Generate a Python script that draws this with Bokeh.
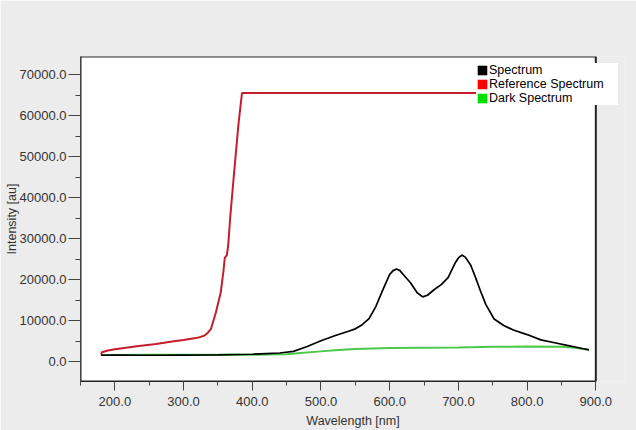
from bokeh.plotting import figure
from bokeh.models import (Range1d, SingleIntervalTicker, NumeralTickFormatter,
                          Legend, LegendItem)
from bokeh.embed import file_html
from bokeh.resources import INLINE

# ---- data ----
wl_spectrum = [180, 200, 250, 300, 350, 400, 420, 440, 460, 480,
               500, 520, 540, 550, 560, 570, 580, 590, 600, 605,
               610, 615, 620, 630, 640, 648, 655, 665, 675, 685,
               695, 700, 705, 710, 718, 725, 732, 740, 752, 766,
               780, 800, 820, 840, 860, 880, 890]
spectrum = [1550, 1600, 1550, 1600, 1650, 1800, 1950, 2100, 2500, 3700,
            5100, 6300, 7400, 8000, 9000, 10500, 13500, 17500, 21300, 22200,
            22600, 22200, 21200, 19300, 16800, 15800, 16200, 17600, 18800, 20500,
            24000, 25300, 26000, 25500, 23500, 20500, 17300, 13900, 10400, 8800,
            7700, 6600, 5300, 4600, 3900, 3200, 2850]

wl_reference = [180, 181, 190, 200, 232, 260, 281, 300, 320, 330,
                335, 340, 347, 354, 358, 360, 363, 365, 368, 373,
                380, 385, 890]
reference = [1700, 2300, 2700, 3000, 3750, 4300, 4850, 5300, 5800, 6300,
             7000, 8000, 12000, 16800, 22000, 25300, 26000, 28500, 35400, 45100,
             58100, 65535, 65535]

wl_dark = [180, 250, 300, 350, 400, 450, 470, 500, 520, 550,
           600, 650, 700, 750, 800, 850, 870, 890]
dark = [1600, 1650, 1650, 1700, 1700, 1800, 2100, 2500, 2750, 3100,
        3300, 3400, 3450, 3600, 3700, 3650, 3400, 2900]

series_names = ["Spectrum", "Reference Spectrum", "Dark Spectrum"]
legend_colors = ["#000000", "#ff0000", "#00e000"]
series_x = [wl_spectrum, wl_reference, wl_dark]
series_y = [spectrum, reference, dark]

x_start, x_end = 150, 900          # plotted wavelength window
y_start, y_end = -4850, 74450      # intensity window

FONT = "Liberation Sans"
GRAY = "#ececec"

p = figure(width=636, height=430, output_backend="svg", toolbar_location=None,
           x_range=Range1d(x_start, 943.2), y_range=Range1d(y_start, y_end),
           min_border_left=80, min_border_right=11, min_border_top=56,
           min_border_bottom=47)

p.background_fill_color = GRAY
p.border_fill_color = GRAY
p.outline_line_color = None
p.grid.visible = False

# white plotting panel with dark border (the chart's own frame)
p.quad(left=[x_start], right=[x_end], bottom=[y_start], top=[y_end],
       fill_color="white", line_color="#222222", line_width=2)

# lines
p.line(wl_dark, dark, line_color="#4cc94c", line_width=2)
p.line(wl_reference, reference, line_color="#c41e2c", line_width=2)
p.line(wl_spectrum, spectrum, line_color="#000000", line_width=1.7)

# axes
xa = p.xaxis[0]
xa.bounds = (x_start, x_end)
xa.ticker = SingleIntervalTicker(interval=100, num_minor_ticks=2)
xa.formatter = NumeralTickFormatter(format="0.0")
xa.major_tick_out = 9
xa.major_tick_in = 0
xa.minor_tick_out = 4
xa.minor_tick_in = 0
xa.major_label_standoff = 6
xa.axis_label = "Wavelength [nm]"
xa.axis_label_standoff = 5

ya = p.yaxis[0]
ya.ticker = SingleIntervalTicker(interval=10000, num_minor_ticks=2)
ya.formatter = NumeralTickFormatter(format="0.0")
ya.major_tick_out = 12
ya.major_tick_in = 0
ya.minor_tick_out = 5
ya.minor_tick_in = 0
ya.major_label_standoff = 2
ya.axis_label = "Intensity [au]"
ya.axis_label_standoff = -2

for ax in (xa, ya):
    ax.axis_line_color = "#444444"
    ax.major_tick_line_color = "#444444"
    ax.minor_tick_line_color = "#444444"
    ax.major_label_text_font = FONT
    ax.major_label_text_font_size = "13px"
    ax.major_label_text_color = "#333333"
    ax.axis_label_text_font = FONT
    ax.axis_label_text_font_size = "12.5px"
    ax.axis_label_text_font_style = "normal"
    ax.axis_label_text_color = "#333333"
xa.axis_line_color = "#222222"

# legend with filled squares (hidden zero-size quads supply the swatches)
items = []
for name, col, xs, ys in zip(series_names, legend_colors, series_x, series_y):
    r = p.quad(left=xs[:1], right=xs[:1], top=ys[:1], bottom=ys[:1],
               fill_color=col, line_color=None)
    r.visible = False
    items.append(LegendItem(label=name, renderers=[r]))

legend = Legend(items=items, location=(396, 276), click_policy="none",
                background_fill_color="white", background_fill_alpha=1,
                border_line_color=None, padding=4, margin=0, spacing=0,
                glyph_width=12, glyph_height=12, label_height=12,
                label_width=129, label_standoff=1,
                inactive_fill_alpha=0,
                label_text_font=FONT, label_text_font_size="12.5px",
                label_text_line_height=0.9,
                label_text_color="#000000")
p.add_layout(legend)

open("out.html", "w").write(file_html(p, INLINE))
